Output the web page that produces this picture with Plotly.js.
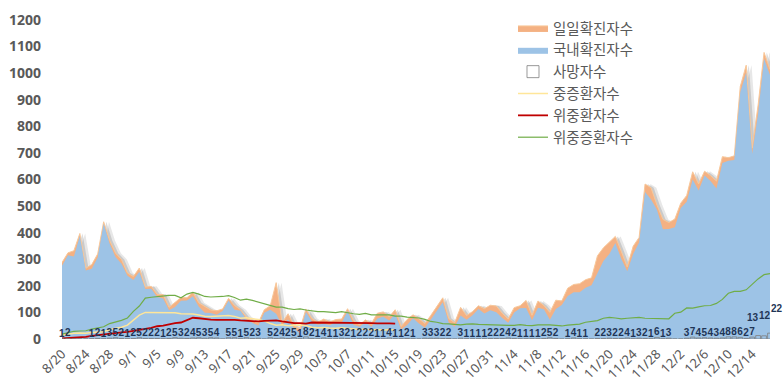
<!DOCTYPE html>
<html>
<head>
<meta charset="utf-8">
<script src="https://cdn.plot.ly/plotly-3.0.1.min.js"></script>
<style>html,body{margin:0;padding:0;background:#fff;}#chart{width:783px;height:388px;}</style>
</head>
<body>
<div id="chart"></div>
<script>
var dates = [
 "8/20","8/21","8/22","8/23","8/24","8/25","8/26","8/27","8/28","8/29","8/30","8/31",
 "9/1","9/2","9/3","9/4","9/5","9/6","9/7","9/8","9/9","9/10","9/11","9/12","9/13","9/14","9/15",
 "9/16","9/17","9/18","9/19","9/20","9/21","9/22","9/23","9/24","9/25","9/26","9/27","9/28","9/29","9/30",
 "10/1","10/2","10/3","10/4","10/5","10/6","10/7","10/8","10/9","10/10","10/11","10/12","10/13","10/14","10/15",
 "10/16","10/17","10/18","10/19","10/20","10/21","10/22","10/23","10/24","10/25","10/26","10/27","10/28","10/29","10/30","10/31",
 "11/1","11/2","11/3","11/4","11/5","11/6","11/7","11/8","11/9","11/10","11/11","11/12","11/13","11/14","11/15",
 "11/16","11/17","11/18","11/19","11/20","11/21","11/22","11/23","11/24","11/25","11/26","11/27","11/28","11/29","11/30",
 "12/1","12/2","12/3","12/4","12/5","12/6","12/7","12/8","12/9","12/10","12/11","12/12","12/13","12/14","12/15","12/16","12/17"
];
var tickLabels = ["8/20","8/24","8/28","9/1","9/5","9/9","9/13","9/17","9/21","9/25","9/29","10/3","10/7","10/11","10/15","10/19","10/23","10/27","10/31","11/4","11/8","11/12","11/16","11/20","11/24","11/28","12/2","12/6","12/10","12/14"];
var yTicks = [0,100,200,300,400,500,600,700,800,900,1000,1100,1200];

// 일일확진자수 (total daily confirmed)
var dailyTotal = [
 288,324,332,397,266,280,320,441,371,323,299,248,
 235,267,195,198,168,167,119,136,156,155,176,136,121,109,106,113,153,126,110,82,70,61,110,125,212,61,95,50,38,113,
 77,63,75,64,73,75,114,69,54,72,58,97,102,84,110,47,73,91,76,58,89,121,155,77,61,119,88,103,125,114,127,
 124,97,75,118,125,145,89,143,126,100,146,143,191,205,208,223,230,313,343,363,386,330,271,349,382,583,569,504,450,438,
 451,511,540,629,583,631,615,594,686,682,689,950,1030,718,880,1078,1014
];
// 국내확진자수 (domestic)
var domestic = [
 276,315,310,387,258,264,307,434,359,308,283,238,
 222,253,188,189,158,152,108,120,144,145,161,121,99,98,91,105,145,110,106,73,61,51,99,110,95,52,73,40,23,102,
 67,54,58,52,64,60,105,54,46,63,46,77,84,70,94,36,53,78,58,42,73,104,138,62,46,88,72,89,113,96,108,
 101,79,61,100,116,117,71,118,112,72,113,128,162,176,176,193,202,245,293,320,361,302,255,320,363,553,525,486,413,414,
 420,493,516,600,559,615,594,566,662,671,673,928,1002,697,848,1054,993
];
// 사망자수 (deaths)
var deaths = [
 1,2,0,0,0,1,2,1,3,5,2,1,
 2,5,2,2,2,1,2,5,3,2,4,5,3,5,4,0,5,5,1,5,2,3,0,5,2,4,2,5,1,8,
 2,1,4,1,1,3,2,1,2,2,2,1,1,4,1,1,2,1,0,3,3,3,2,2,0,3,1,1,1,1,2,
 2,2,4,2,1,1,1,1,2,5,2,0,1,4,1,1,0,2,2,3,2,2,4,1,3,2,1,6,1,3,
 0,0,3,7,4,5,4,3,4,8,8,6,2,7,13,12,22
];
// 중증환자수
var severe = [
 14,18,22,23,22,24,26,27,36,40,44,52,
 72,90,100,100,100,101,100,99,95,95,94,90,86,85,86,88,88,85,78,80,77,73,68,58,52,54,50,51,53,51,
 44,42,43,41,40,42,40,38,36,38,34,36,33,36,33,null,null,null,null,null,null,null,null,null,null,null,null,null,null,null,null,
 null,null,null,null,null,null,null,null,null,null,null,null,null,null,null,null,null,null,null,null,null,null,null,null,null,null,null,null,null,null,
 null,null,null,null,null,null,null,null,null,null,null,null,null,null,null,null,null
];
// 위중환자수
var critical = [
 2,3,4,5,8,12,15,18,20,22,25,27,
 30,33,38,42,48,50,55,60,62,70,80,78,75,73,72,72,73,72,70,68,68,66,68,70,70,66,62,60,60,58,
 62,62,61,62,61,62,60,60,60,61,60,59,60,59,58,null,null,null,null,null,null,null,null,null,null,null,null,null,null,null,null,
 null,null,null,null,null,null,null,null,null,null,null,null,null,null,null,null,null,null,null,null,null,null,null,null,null,null,null,null,null,null,
 null,null,null,null,null,null,null,null,null,null,null,null,null,null,null,null,null
];
// 위중증환자수
var severeCritical = [
 18,24,29,30,31,37,42,46,58,64,70,79,
 104,124,154,157,159,163,164,164,155,169,175,169,160,158,158,160,163,156,146,150,145,139,134,126,120,120,114,111,113,109,
 105,103,103,102,99,103,98,95,93,96,91,91,89,91,86,86,82,81,79,74,66,63,58,57,55,53,56,57,55,54,54,
 51,52,51,51,54,51,50,53,54,53,51,49,52,54,56,63,66,69,78,81,79,76,78,79,81,78,77,76,77,76,
 97,101,117,116,121,125,126,134,149,172,179,179,185,205,226,242,246
];

var labelFont = {family:'Liberation Sans', size:10, color:'#1F3556', weight:'bold'};
// single-digit labels sit on the bars; two-digit labels are lifted/spread so they do not collide
var deathText = deaths.map(function(v){ return (v && v < 10) ? String(v) : ""; });
var staggerY = [18, 20, 25];
var staggerX = [-5, 1, 7];
var annotations = [];
var k = 0;
deaths.forEach(function(v, i){
  if (v >= 10) {
    annotations.push({x: dates[i], y: v, xref:'x4', yref:'y', text: String(v), showarrow:false,
      yshift: staggerY[k % staggerY.length], xshift: staggerX[k % staggerX.length], font: labelFont});
    k++;
  }
});

var traces = [
 {x: dates, y: dailyTotal, xaxis:'x', yaxis:'y', type:'scatter', mode:'lines', fill:'tozeroy',
  line:{width:0, color:'rgba(0,0,0,0)'}, fillcolor:'rgba(70,70,70,0.13)', showlegend:false, hoverinfo:'skip'},
 {x: dates, y: dailyTotal, xaxis:'x2', yaxis:'y', type:'scatter', mode:'lines', fill:'tozeroy',
  line:{width:0, color:'rgba(0,0,0,0)'}, fillcolor:'rgba(70,70,70,0.18)', showlegend:false, hoverinfo:'skip'},
 {name:'일일확진자수', x: dates, y: dailyTotal, xaxis:'x3', yaxis:'y', type:'scatter', mode:'lines', fill:'tozeroy',
  line:{width:1, color:'#F8C89A'}, fillcolor:'#F4B183'},
 {name:'국내확진자수', x: dates, y: domestic, xaxis:'x3', yaxis:'y', type:'scatter', mode:'lines', fill:'tozeroy',
  line:{width:0, color:'#9DC3E6'}, fillcolor:'#9DC3E6'},
 {name:'사망자수', x: dates, y: deaths, xaxis:'x4', yaxis:'y', type:'bar',
  marker:{color:'rgba(255,255,255,0)', line:{color:'#7F7F7F', width:0.8}},
  text: deathText, textposition:'outside', constraintext:'none', textangle:0, cliponaxis:false,
  textfont: labelFont},
 {name:'중증환자수', x: dates, y: severe, xaxis:'x3', yaxis:'y', type:'scatter', mode:'lines',
  line:{width:1.5, color:'#FFE699'}, connectgaps:false},
 {name:'위중환자수', x: dates, y: critical, xaxis:'x3', yaxis:'y', type:'scatter', mode:'lines',
  line:{width:1.8, color:'#C00000'}, connectgaps:false},
 {name:'위중증환자수', x: dates, y: severeCritical, xaxis:'x3', yaxis:'y', type:'scatter', mode:'lines',
  line:{width:1.2, color:'#70AD47'}}
];

var tickFontX = {family:'Noto Sans', size:13, color:'#595959'};
var layout = {
 width:783, height:388,
 margin:{l:62, r:13, t:20, b:49},
 paper_bgcolor:'#ffffff', plot_bgcolor:'#ffffff',
 showlegend:true,
 hovermode:false,
 bargap:0.2,
 annotations: annotations,
 legend:{x:0.637, xanchor:'left', y:1.025, yanchor:'top', traceorder:'normal',
   font:{family:'Noto Sans CJK KR', size:14.5, color:'#595959'}, bgcolor:'rgba(0,0,0,0)', itemwidth:30, tracegroupgap:0},
 yaxis:{range:[0,1200], tickmode:'array', tickvals:yTicks, showgrid:false, zeroline:false, showline:false, ticks:'',
   tickfont:{family:'Noto Sans', size:14, color:'#595959', weight:'bold'}, ticklabelstandoff:20, automargin:false, fixedrange:true},
 xaxis:{type:'category', range:[-0.9,118.1], visible:false, fixedrange:true},
 xaxis2:{type:'category', overlaying:'x', range:[-0.45,118.55], visible:false, fixedrange:true},
 xaxis3:{type:'category', overlaying:'x', range:[0,119], tickmode:'array', tickvals:tickLabels, ticktext:tickLabels,
   tickangle:-45, tickfont:tickFontX, ticklabelstandoff:4, showgrid:false, zeroline:false, showline:false, ticks:'', automargin:false, fixedrange:true},
 xaxis4:{type:'category', overlaying:'x', range:[0,119], visible:false, fixedrange:true}
};

Plotly.newPlot('chart', traces, layout, {staticPlot:true, displayModeBar:false});
</script>
</body>
</html>
